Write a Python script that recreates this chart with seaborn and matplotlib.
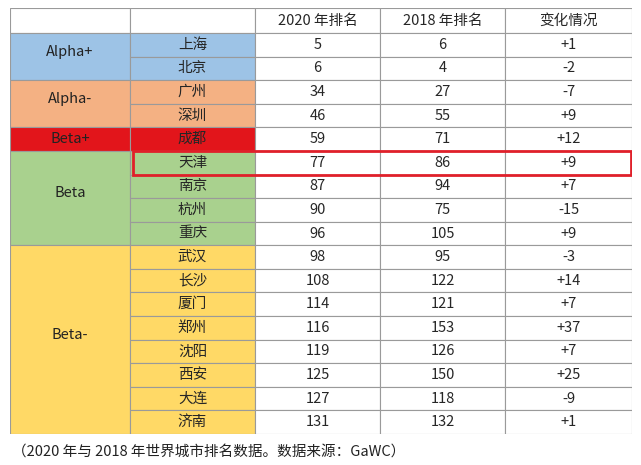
import matplotlib.pyplot as plt
from matplotlib.patches import Rectangle
import seaborn as sns

sns.set_theme(style="white")
plt.rcParams["font.family"] = ["Noto Sans CJK SC", "DejaVu Sans"]

headers = ["", "", "2020 年排名", "2018 年排名", "变化情况"]
cities = ["上海", "北京", "广州", "深圳", "成都", "天津", "南京", "杭州", "重庆",
          "武汉", "长沙", "厦门", "郑州", "沈阳", "西安", "大连", "济南"]
rank_2020 = [5, 6, 34, 46, 59, 77, 87, 90, 96, 98, 108, 114, 116, 119, 125, 127, 131]
rank_2018 = [6, 4, 27, 55, 71, 86, 94, 75, 105, 95, 122, 121, 153, 126, 150, 118, 132]
changes = ["+1", "-2", "-7", "+9", "+12", "+9", "+7", "-15", "+9",
           "-3", "+14", "+7", "+37", "+7", "+25", "-9", "+1"]
groups = ["Alpha+", "Alpha-", "Beta+", "Beta", "Beta-"]
group_sizes = [2, 2, 1, 4, 8]
group_colors = ["#9DC3E6", "#F4B183", "#E2151B", "#A9D18E", "#FFD966"]
highlight_city = "天津"

W, H = 641, 465
fig = plt.figure(figsize=(W / 100, H / 100), dpi=100)
# table area in pixels: x 10..632, y 8..434
ax = fig.add_axes([10 / W, 1 - 434 / H, 622 / W, 426 / H])
col_w = [120, 125, 125, 125, 127]
col_x = [0]
for w in col_w:
    col_x.append(col_x[-1] + w)
n_rows = len(cities) + 1
row_h = [25] + [(426 - 25) / len(cities)] * len(cities)
row_y = [0]
for h in row_h:
    row_y.append(row_y[-1] + h)
ax.set_xlim(0, col_x[-1])
ax.set_ylim(row_y[-1], 0)
ax.axis("off")

line = "#9a9a9a"
fs = 10.5
# header
for c, txt in enumerate(headers):
    ax.add_patch(Rectangle((col_x[c], 0), col_w[c], row_h[0], fc="white", ec=line, lw=0.8))
    ax.text(col_x[c] + col_w[c] / 2, row_h[0] / 2, txt, ha="center", va="center", fontsize=fs)

# groups
r = 0
for g, n, color in zip(groups, group_sizes, group_colors):
    y0 = row_y[1 + r]
    y1 = row_y[1 + r + n]
    ax.add_patch(Rectangle((0, y0), col_w[0], y1 - y0, fc=color, ec=line, lw=0.8))
    ax.text(col_w[0] / 2, y0 + (y1 - y0) / 2 - (5 if n > 1 else 0), g, ha="center", va="center",
            fontsize=fs, color="#222222")
    for i in range(r, r + n):
        ya = row_y[1 + i]
        ax.add_patch(Rectangle((col_x[1], ya), col_w[1], row_h[1 + i], fc=color, ec=line, lw=0.8))
        ax.text(col_x[1] + col_w[1] / 2, ya + row_h[1 + i] / 2, cities[i], ha="center", va="center", fontsize=fs)
        for c, val in zip([2, 3, 4], [rank_2020[i], rank_2018[i], changes[i]]):
            ax.add_patch(Rectangle((col_x[c], ya), col_w[c], row_h[1 + i], fc="white", ec=line, lw=0.8))
            ax.text(col_x[c] + col_w[c] / 2, ya + row_h[1 + i] / 2, str(val), ha="center", va="center", fontsize=fs)
    r += n

hi = cities.index(highlight_city)
ax.add_patch(Rectangle((col_x[1] + 3, row_y[1 + hi]), col_x[-1] - col_x[1] - 4, row_h[1 + hi],
                       fc="none", ec="#E0202A", lw=2, zorder=5))

fig.text(12 / W, 1 - 452 / H, "（2020 年与 2018 年世界城市排名数据。数据来源：GaWC）",
         ha="left", va="center", fontsize=10.5, color="#222222")

fig.savefig("out.png", dpi=100, facecolor="white")
